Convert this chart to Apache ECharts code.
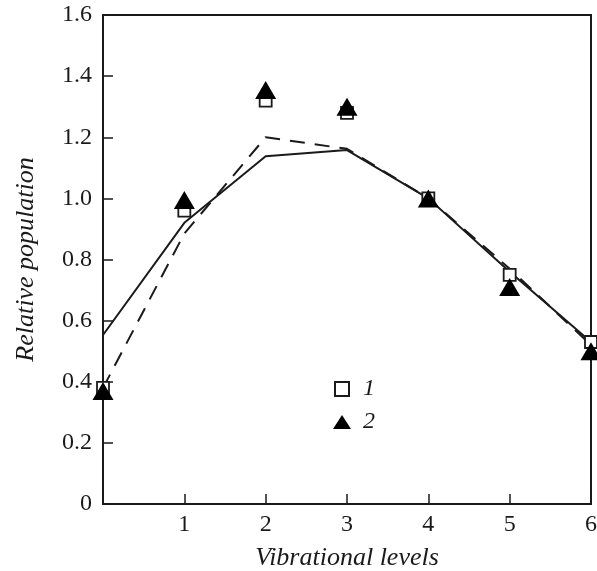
<!DOCTYPE html>
<html>
<head>
<meta charset="utf-8">
<script src="https://cdn.jsdelivr.net/npm/echarts@6/dist/echarts.min.js"></script>
<style>
  html, body { margin: 0; padding: 0; background: #fff; }
  #chart { width: 597px; height: 571px; }
</style>
</head>
<body>
<div id="chart"></div>
<script>
// Vibrational level index
const levels = [0, 1, 2, 3, 4, 5, 6];
// Measured relative populations
const set1 = [0.38, 0.96, 1.32, 1.28, 1.00, 0.75, 0.53];
const set2 = [0.37, 0.995, 1.355, 1.30, 1.00, 0.71, 0.50];
// Model curves
const solidCurve = [0.553, 0.92, 1.138, 1.158, 1.00, 0.76, 0.53];
const dashedCurve = [0.38, 0.885, 1.20, 1.162, 1.00, 0.77, 0.52];
// Axis ticks
const yTicks = [0, 0.2, 0.4, 0.6, 0.8, 1.0, 1.2, 1.4, 1.6];

const pairs = arr => levels.map((x, i) => [x, arr[i]]);
const serif = '"Liberation Serif", "Times New Roman", serif';
const ink = '#1a1a1a';

const chart = echarts.init(document.getElementById('chart'), null, { renderer: 'canvas' });
chart.setOption({
  animation: false,
  backgroundColor: '#fff',
  grid: {
    left: 103, top: 15, right: 6, bottom: 67,
    outerBoundsMode: 'none',
    show: true, borderColor: ink, borderWidth: 2, backgroundColor: 'transparent'
  },
  legend: {
    orient: 'vertical',
    left: 333, top: 377,
    padding: 0,
    itemGap: 9,
    itemWidth: 18, itemHeight: 14,
    data: [
      { name: '1', icon: 'path://M0,0H12V12H0Z' },
      { name: '2', icon: 'triangle' }
    ],
    textStyle: { fontFamily: serif, fontStyle: 'italic', fontSize: 24, lineHeight: 24, color: ink, padding: [0, 0, 0, 7] }
  },
  xAxis: {
    type: 'value', min: 0, max: 6, interval: 1,
    name: 'Vibrational levels', nameLocation: 'middle', nameGap: 41,
    nameTextStyle: { fontFamily: serif, fontStyle: 'italic', fontSize: 26, color: ink },
    axisLine: { show: true, lineStyle: { color: ink, width: 2 } },
    axisTick: { show: true, inside: true, length: 10, lineStyle: { color: ink, width: 1.5 } },
    axisLabel: {
      margin: 9, fontFamily: serif, fontSize: 24, color: ink,
      formatter: v => (v === 0 ? '' : String(v))
    },
    splitLine: { show: false }
  },
  yAxis: {
    type: 'value', min: 0, max: 1.6, interval: 0.2,
    name: 'Relative population', nameLocation: 'middle', nameGap: 64,
    nameTextStyle: { fontFamily: serif, fontStyle: 'italic', fontSize: 26, color: ink },
    axisLine: { show: true, lineStyle: { color: ink, width: 2 } },
    axisTick: { show: true, inside: true, length: 10, lineStyle: { color: ink, width: 1.5 } },
    axisLabel: {
      margin: 11, fontFamily: serif, fontSize: 24, color: ink,
      formatter: v => {
        const t = yTicks.find(k => Math.abs(k - v) < 1e-6);
        return t === 0 ? '0' : t.toFixed(1);
      }
    },
    splitLine: { show: false }
  },
  series: [
    {
      name: 'solid', type: 'line', data: pairs(solidCurve), symbol: 'none',
      lineStyle: { color: ink, width: 2 }, z: 2
    },
    {
      name: 'dashed', type: 'line', data: pairs(dashedCurve), symbol: 'none',
      lineStyle: { color: ink, width: 2, type: [15, 10] }, z: 2
    },
    {
      name: '1', type: 'scatter', data: pairs(set1), symbol: 'rect', symbolSize: 12,
      itemStyle: { color: '#fff', borderColor: ink, borderWidth: 1.8, opacity: 1 }, z: 3
    },
    {
      name: '2', type: 'scatter', data: pairs(set2), symbol: 'triangle', symbolSize: [21, 18],
      itemStyle: { color: '#000', opacity: 1 }, z: 4
    }
  ]
});
</script>
</body>
</html>
